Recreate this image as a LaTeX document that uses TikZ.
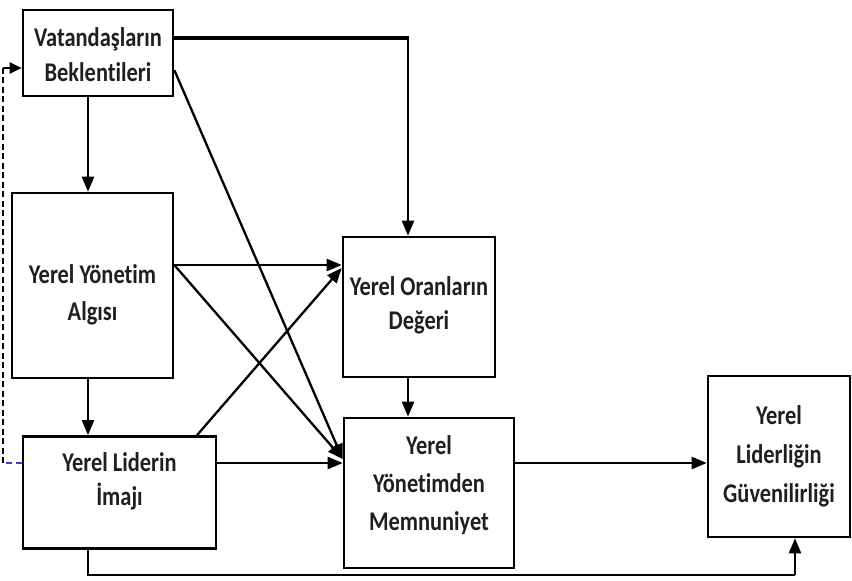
\documentclass[tikz,border=0pt]{standalone}
\usepackage{fontspec}
\setmainfont{Carlito}[FakeStretch=0.83, Ligatures=NoCommon]
\usetikzlibrary{arrows.meta}
\definecolor{dashblue}{RGB}{60,60,220}
\tikzset{
  box/.style={draw, line width=2.6pt, inner sep=0pt},
  txt/.style={align=center, inner sep=0pt,
    font=\bfseries\fontsize{27}{36}\selectfont, text=black!88},
  arr/.style={line width=2.3pt, -{Triangle[length=15pt,width=12pt]}},
  plain/.style={line width=2.3pt},
  thickln/.style={line width=4.5pt},
  dashln/.style={line width=2.2pt, dash pattern=on 6pt off 3.5pt}
}
\begin{document}
\begin{tikzpicture}[x=1pt,y=-1pt]
\useasboundingbox (0,0) rectangle (852,581);

\node[box, minimum width=150pt, minimum height=86pt] (A) at (98,53) {};
\node[box, minimum width=161pt, minimum height=185pt] (B) at (92.5,285.5) {};
\node[box, minimum width=193pt, minimum height=112pt] (C) at (119.5,492.5) {};
\node[box, minimum width=152pt, minimum height=140pt] (D) at (419,307) {};
\node[box, minimum width=170pt, minimum height=150pt] (E) at (429,493) {};
\node[box, minimum width=142pt, minimum height=161pt] (F) at (779,456.5) {};

\node[txt, font=\bfseries\fontsize{27}{35}\selectfont] (At) at ([yshift=-1.5pt]A.center) {Vatandaşların\\Beklentileri};
\node[txt, font=\bfseries\fontsize{27}{37}\selectfont] (Bt) at ([yshift=-9pt]B.center) {Yerel Yönetim\\Algısı};
\node[txt, font=\bfseries\fontsize{27}{34}\selectfont] (Ct) at ([yshift=11.5pt]C.center) {Yerel Liderin\\İmajı};
\node[txt, font=\bfseries\fontsize{27}{34}\selectfont] (Dt) at ([yshift=2pt]D.center) {Yerel Oranların\\Değeri};
\node[txt, font=\bfseries\fontsize{27}{38}\selectfont] (Et) at ([yshift=8pt]E.center) {Yerel\\Yönetimden\\Memnuniyet};
\node[txt, font=\bfseries\fontsize{27}{39}\selectfont] (Ft) at (F.center) {Yerel\\Liderliğin\\Güvenilirliği};

% helper coordinates
\coordinate (xl) at (88,0);
\coordinate (xd) at (408,0);
\coordinate (xc) at (197,0);
\coordinate (xf) at (795,0);
\coordinate (xdash) at (3,0);
\coordinate (ytop) at (0,38);
\coordinate (ya) at (0,70);
\coordinate (yb) at (0,265);
\coordinate (yd) at (0,268);
\coordinate (ye) at (0,459);
\coordinate (ym) at (0,463);
\coordinate (ybot) at (0,575);
\coordinate (ydash) at (0,68);
\coordinate (k1) at (xd |- ytop);
\coordinate (k2) at (xl |- ybot);
\coordinate (k3) at (xf |- ybot);
\coordinate (k4) at (xdash |- ym);
\coordinate (k5) at (xdash |- ydash);

% connectors
\draw[arr] (A.south -| xl) -- (B.north -| xl);
\draw[thickln] (A.east |- ytop) -- ([xshift=1pt]k1);
\draw[arr] (k1) -- (D.north -| xd);
\draw[arr] (A.east |- ya) -- (E.west |- ye);
\draw[arr] (B.east |- yb) -- (D.west |- yb);
\draw[arr] (B.east |- yb) -- (E.west |- ye);
\draw[arr] (C.north -| xc) -- (D.west |- yd);
\draw[arr] (D.south -| xd) -- (E.north -| xd);
\draw[arr] (C.east |- ym) -- (E.west |- ym);
\draw[arr] (B.south -| xl) -- (C.north -| xl);
\draw[arr] (E.east |- ym) -- (F.west |- ym);
\draw[plain] (C.south -| xl) -- (k2) -- (k3);
\draw[arr] (k3) -- (F.south -| xf);
\draw[dashln, dashblue] (C.west |- ym) -- (k4);
\draw[dashln] (k4) -- (k5);
\draw[line width=2pt, -{Triangle[length=12pt,width=11pt]}] (k5) -- (A.west |- ydash);
\end{tikzpicture}
\end{document}
